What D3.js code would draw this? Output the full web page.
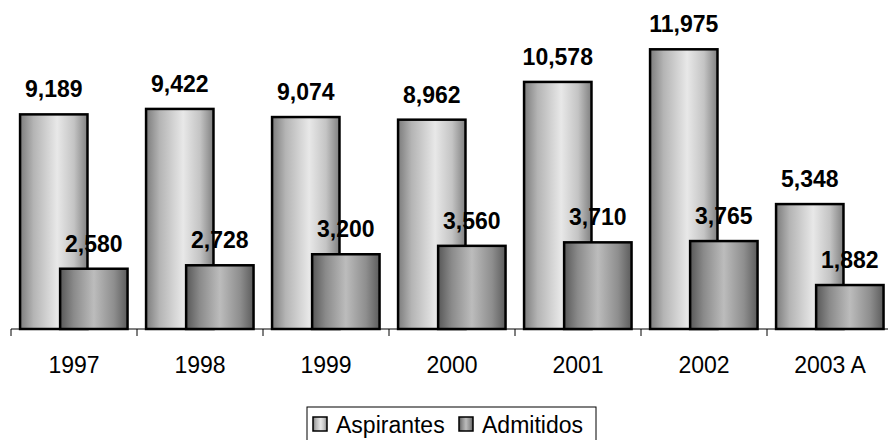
<!DOCTYPE html>
<html lang="es">
<meta charset="utf-8" />
<style>
  body { margin: 0; background: #fff; }
  text { font-family: Arial, "Liberation Sans", sans-serif; }
</style>
<svg width="888" height="440"></svg>
<script src="https://d3js.org/d3.v7.min.js"></script>
<script>
var years = ["1997", "1998", "1999", "2000", "2001", "2002", "2003 A"];
var aspirantes = [9189, 9422, 9074, 8962, 10578, 11975, 5348];
var admitidos = [2580, 2728, 3200, 3560, 3710, 3765, 1882];
var seriesNames = ["Aspirantes", "Admitidos"];

var svg = d3.select("svg"),
    width = +svg.attr("width"),
    height = +svg.attr("height");

var baseY = 329;

var x = d3.scaleBand()
    .domain(years)
    .range([11, 893])
    .paddingInner(0);

var y = d3.scaleLinear()
    .domain([0, 14000])
    .range([baseY, 2]);

var fmt = d3.format(",");

// degradados tipo cilindro
var defs = svg.append("defs");
function cylinder(id, stops) {
  var g = defs.append("linearGradient")
      .attr("id", id)
      .attr("x1", "0%").attr("x2", "100%")
      .attr("y1", "0%").attr("y2", "0%");
  stops.forEach(function(s) {
    g.append("stop").attr("offset", s[0]).attr("stop-color", s[1]);
  });
}
cylinder("gAsp", [["0%", "#7c7c7c"], ["20%", "#b4b4b4"], ["55%", "#e8e8e8"], ["80%", "#c4c4c4"], ["100%", "#808080"]]);
cylinder("gAdm", [["0%", "#585858"], ["20%", "#8a8a8a"], ["50%", "#bcbcbc"], ["80%", "#8e8e8e"], ["100%", "#5c5c5c"]]);

var bw = x.bandwidth();
var barW = bw * 0.535;
var series = [
  { name: seriesNames[0], values: aspirantes, off: bw * 0.072, fill: "url(#gAsp)" },
  { name: seriesNames[1], values: admitidos, off: bw * 0.39, fill: "url(#gAdm)" }
];

series.forEach(function(s) {
  var g = svg.append("g");
  g.selectAll("rect")
    .data(years)
    .enter().append("rect")
      .attr("x", function(d) { return x(d) + s.off; })
      .attr("y", function(d, i) { return y(s.values[i]); })
      .attr("width", barW)
      .attr("height", function(d, i) { return baseY - y(s.values[i]); })
      .attr("fill", s.fill)
      .attr("stroke", "#000")
      .attr("stroke-width", 2.5);
});

// etiquetas de valores
series.forEach(function(s) {
  svg.append("g").selectAll("text")
    .data(years)
    .enter().append("text")
      .attr("x", function(d) { return x(d) + s.off + barW / 2; })
      .attr("y", function(d, i) { return y(s.values[i]) - 17; })
      .attr("text-anchor", "middle")
      .attr("font-size", 23)
      .attr("font-weight", "bold")
      .attr("fill", "#000")
      .text(function(d, i) { return fmt(s.values[i]); });
});

// eje X
var axis = svg.append("g")
    .attr("transform", "translate(0," + baseY + ")");
axis.append("line")
    .attr("x1", x.range()[0]).attr("x2", width)
    .attr("stroke", "#000").attr("stroke-width", 1);
axis.selectAll(".tick")
  .data(years)
  .enter().append("line")
    .attr("x1", function(d) { return x(d); })
    .attr("x2", function(d) { return x(d); })
    .attr("y1", 0).attr("y2", 7)
    .attr("stroke", "#000");
axis.selectAll(".lbl")
  .data(years)
  .enter().append("text")
    .attr("x", function(d) { return x(d) + bw / 2; })
    .attr("y", 44)
    .attr("text-anchor", "middle")
    .attr("font-size", 23)
    .text(function(d) { return d; });

// leyenda
var leg = svg.append("g").attr("transform", "translate(307,407)");
leg.append("rect")
    .attr("x", 0).attr("y", 0)
    .attr("width", 289).attr("height", 40)
    .attr("fill", "#fff")
    .attr("stroke", "#000").attr("stroke-width", 1);
var legX = [6, 152];
series.forEach(function(s, i) {
  leg.append("rect")
      .attr("x", legX[i]).attr("y", 10)
      .attr("width", 14).attr("height", 14)
      .attr("fill", s.fill)
      .attr("stroke", "#000").attr("stroke-width", 1.5);
  leg.append("text")
      .attr("x", legX[i] + 23).attr("y", 26)
      .attr("font-size", 23)
      .text(s.name);
});
</script>
</html>
